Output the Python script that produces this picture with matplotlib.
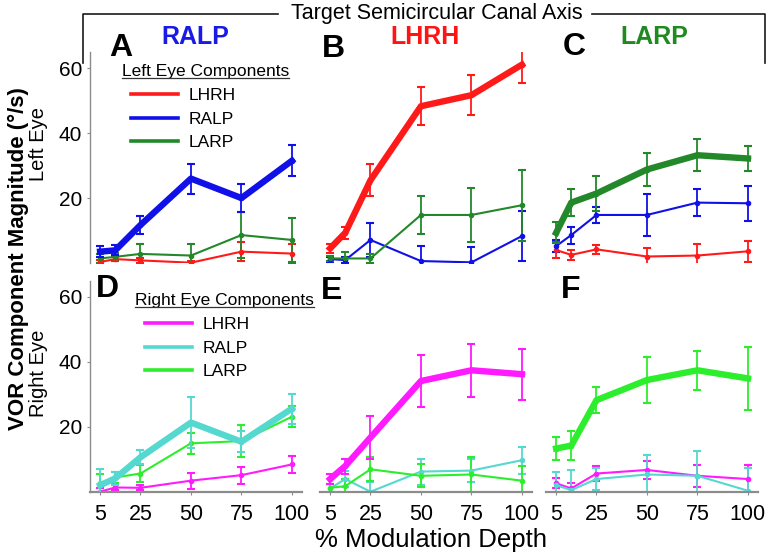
import matplotlib
matplotlib.use('Agg')
import matplotlib.pyplot as plt
from matplotlib.lines import Line2D

plt.rcParams['font.family'] = ['Liberation Sans', 'DejaVu Sans']

# ---------------- data ----------------
depth = [5, 12.5, 25, 50, 75, 100]
xtick_vals = [5, 25, 50, 75, 100]
ytick_vals = [20, 40, 60]
components = ['LHRH', 'RALP', 'LARP']
targets = ['RALP', 'LHRH', 'LARP']

# Left eye, target RALP (A)
A_LHRH = [0.3, 1.2, 0.8, 0.1, 3.5, 2.9]
A_LHRH_err = [0.6, 0.6, 0.8, 0.6, 2.9, 3.0]
A_RALP = [3.5, 3.9, 11.7, 26.0, 20.0, 31.5]
A_RALP_err = [1.7, 1.5, 2.9, 4.6, 4.4, 4.7]
A_LARP = [1.4, 1.9, 2.8, 2.3, 8.6, 7.1]
A_LARP_err = [1.5, 1.2, 3.2, 3.4, 7.2, 6.7]

# Left eye, target LHRH (B)
B_LHRH = [4.5, 9.3, 25.5, 48.3, 51.7, 61.1]
B_LHRH_err = [1.3, 1.8, 5.0, 5.8, 6.2, 5.8]
B_RALP = [1.2, 0.9, 7.1, 0.6, 0.2, 8.3]
B_RALP_err = [0.8, 0.8, 5.3, 4.5, 4.7, 7.8]
B_LARP = [1.4, 1.4, 1.4, 14.8, 14.8, 17.8]
B_LARP_err = [0.8, 2.0, 1.5, 5.8, 8.3, 10.9]

# Left eye, target LARP (C)
C_LHRH = [4.0, 2.5, 4.2, 2.0, 2.3, 3.6]
C_LHRH_err = [2.4, 1.6, 1.3, 2.6, 3.5, 3.2]
C_RALP = [5.2, 8.6, 14.8, 14.8, 18.6, 18.4]
C_RALP_err = [1.8, 2.6, 2.4, 6.4, 4.1, 5.4]
C_LARP = [9.3, 18.6, 21.4, 28.8, 33.2, 32.2]
C_LARP_err = [3.2, 4.1, 5.4, 5.2, 5.0, 3.8]

# Right eye, target RALP (D)
D_LHRH = [0.0, 1.3, 1.2, 3.4, 5.1, 8.4]
D_LHRH_err = [1.0, 0.8, 0.8, 2.5, 2.6, 2.5]
D_RALP = [2.0, 4.1, 10.6, 21.3, 15.4, 25.6]
D_RALP_err = [5.0, 2.0, 2.2, 7.9, 3.2, 4.6]
D_LARP = [2.6, 4.4, 5.6, 14.9, 15.6, 23.1]
D_LARP_err = [2.8, 1.8, 2.6, 3.3, 4.8, 3.2]

# Right eye, target LHRH (E)
E_LHRH = [3.9, 7.9, 16.7, 34.1, 37.4, 36.2]
E_LHRH_err = [1.5, 2.3, 6.6, 8.0, 8.2, 7.9]
E_RALP = [1.0, 3.9, 0.0, 6.2, 6.5, 9.7]
E_RALP_err = [1.5, 2.5, 3.0, 4.0, 3.5, 4.1]
E_LARP = [1.2, 1.7, 6.9, 4.9, 5.3, 3.4]
E_LARP_err = [1.2, 2.2, 3.7, 3.6, 5.5, 4.6]

# Right eye, target LARP (F)
F_LHRH = [2.6, 1.0, 5.6, 6.7, 4.9, 3.9]
F_LHRH_err = [1.5, 1.8, 2.3, 2.9, 3.3, 4.2]
F_RALP = [2.0, 0.5, 3.9, 5.3, 4.9, 0.3]
F_RALP_err = [4.0, 6.3, 3.5, 6.0, 7.7, 7.0]
F_LARP = [13.3, 14.2, 28.2, 34.4, 37.4, 34.9]
F_LARP_err = [3.5, 4.4, 4.1, 7.2, 6.0, 9.6]

left_data = [
    {'LHRH': (A_LHRH, A_LHRH_err), 'RALP': (A_RALP, A_RALP_err), 'LARP': (A_LARP, A_LARP_err)},
    {'LHRH': (B_LHRH, B_LHRH_err), 'RALP': (B_RALP, B_RALP_err), 'LARP': (B_LARP, B_LARP_err)},
    {'LHRH': (C_LHRH, C_LHRH_err), 'RALP': (C_RALP, C_RALP_err), 'LARP': (C_LARP, C_LARP_err)},
]
right_data = [
    {'LHRH': (D_LHRH, D_LHRH_err), 'RALP': (D_RALP, D_RALP_err), 'LARP': (D_LARP, D_LARP_err)},
    {'LHRH': (E_LHRH, E_LHRH_err), 'RALP': (E_RALP, E_RALP_err), 'LARP': (E_LARP, E_LARP_err)},
    {'LHRH': (F_LHRH, F_LHRH_err), 'RALP': (F_RALP, F_RALP_err), 'LARP': (F_LARP, F_LARP_err)},
]

left_colors = {'LHRH': '#ff1a1a', 'RALP': '#1010e8', 'LARP': '#23882a'}
right_colors = {'LHRH': '#ff1aff', 'RALP': '#55d8d0', 'LARP': '#2cee2c'}
title_colors = {'RALP': '#1a1ae6', 'LHRH': '#ff1414', 'LARP': '#1f8a1f'}

# ---------------- layout ----------------
W, H = 768, 557
fig = plt.figure(figsize=(W / 100, H / 100), dpi=100)

lefts_px = [90, 320, 546]
width_px = 212
rows_px = [(52, 263), (280.7, 491.7)]  # (top, bottom)

GRAY = '#8c8c8c'


def make_ax(col, row):
    top, bot = rows_px[row]
    ax = fig.add_axes([lefts_px[col] / W, 1 - bot / H, width_px / W, (bot - top) / H])
    ax.set_xlim(0, 105)
    ax.set_ylim(0, 65)
    ax.patch.set_alpha(0)
    for s in ['top', 'right']:
        ax.spines[s].set_visible(False)
    if col == 0:
        ax.spines['left'].set_color(GRAY)
        ax.spines['left'].set_linewidth(1.0)
        ax.set_yticks(ytick_vals)
        ax.tick_params(axis='y', length=2.5, width=0.8, color=GRAY, pad=3, labelsize=15)
    else:
        ax.spines['left'].set_visible(False)
        ax.set_yticks([])
    if row == 1:
        ax.spines['bottom'].set_color(GRAY)
        ax.spines['bottom'].set_linewidth(1.6)
        ax.set_xticks(xtick_vals)
        ax.tick_params(axis='x', length=2.5, width=0.8, color=GRAY, pad=6, labelsize=15.5)
    else:
        ax.spines['bottom'].set_visible(False)
        ax.set_xticks([])
    return ax


def draw_panel(ax, data, colors, target):
    order = [c for c in components if c != target] + [target]
    for comp in order:
        vals, errs = data[comp]
        thick = comp == target
        ax.errorbar(depth, vals, yerr=errs, color=colors[comp],
                    lw=4.6 if thick else 1.5, elinewidth=1.3, capsize=2.6,
                    capthick=1.5, marker='o', ms=3.0, zorder=3 if thick else 2)


for col in range(3):
    ax = make_ax(col, 0)
    draw_panel(ax, left_data[col], left_colors, targets[col])
    if col == 0:
        axA = ax
    ax = make_ax(col, 1)
    draw_panel(ax, right_data[col], right_colors, targets[col])
    if col == 0:
        axD = ax


def add_legend(ax, colors, header, hx_px, hy_px, lx_px, ly_px, top_px):
    top, bot = top_px
    tx = (hx_px - lefts_px[0]) / width_px
    ty = (bot - hy_px) / (bot - top)
    txt = ax.text(tx, ty, header, transform=ax.transAxes, fontsize=12.5,
                  ha='left', va='baseline')
    handles = [Line2D([], [], color=colors[c], lw=2.6) for c in components]
    lx = (lx_px - lefts_px[0]) / width_px
    ly = (bot - ly_px) / (bot - top)
    ax.legend(handles, components, loc='upper left', bbox_to_anchor=(lx, ly),
              frameon=False, fontsize=12.5, handlelength=2.7, handletextpad=0.6,
              labelspacing=0.48, borderaxespad=0, borderpad=0)
    return txt


hdrA = add_legend(axA, left_colors, 'Left Eye Components', 122, 76, 131, 88, rows_px[0])
hdrD = add_legend(axD, right_colors, 'Right Eye Components', 135, 305, 145, 317, rows_px[1])

# panel letters
for x, y, s in [(121, 56, 'A'), (333, 57, 'B'), (574, 55, 'C'),
                (107, 297, 'D'), (332, 299, 'E'), (571, 298, 'F')]:
    fig.text(x / W, 1 - y / H, s, fontsize=23, fontweight='bold', ha='center', va='baseline')

# column titles
for x, t in zip([195, 425, 654], targets):
    fig.text(x / W, 1 - 37 / H, t, fontsize=18, fontweight='bold', color=title_colors[t],
             ha='center', va='center')

# bracket + super title
fig.text(437 / W, 1 - 13 / H, 'Target Semicircular Canal Axis', fontsize=15.5,
         ha='center', va='center')
bk = dict(color='#1a1a1a', lw=1.2, transform=fig.transFigure)
fig.add_artist(Line2D([83 / W, 83 / W, 278 / W], [1 - 63 / H, 1 - 14 / H, 1 - 14 / H], **bk))
fig.add_artist(Line2D([592 / W, 765 / W, 765 / W], [1 - 14 / H, 1 - 14 / H, 1 - 63 / H], **bk))

# axis labels
fig.text(18 / W, 1 - 259 / H, 'VOR Component Magnitude (°/s)', rotation=90,
         fontsize=16, fontweight='bold', ha='center', va='center')
fig.text(39 / W, 1 - 144 / H, 'Left Eye', rotation=90, fontsize=14.5, ha='center', va='center')
fig.text(39 / W, 1 - 373 / H, 'Right Eye', rotation=90, fontsize=14.5, ha='center', va='center')
fig.text(431 / W, 1 - 540 / H, '% Modulation Depth', fontsize=18.5, ha='center', va='center')

# underline legend headers
fig.canvas.draw()
inv = fig.transFigure.inverted()
for t in (hdrA, hdrD):
    bb = t.get_window_extent()
    (x0, y0), (x1, _) = inv.transform([(bb.x0, bb.y0 + 1), (bb.x1, bb.y0 + 1)])
    fig.add_artist(Line2D([x0, x1], [y0, y0], color='#333333', lw=0.9, transform=fig.transFigure))

fig.savefig('out.png', dpi=100)
